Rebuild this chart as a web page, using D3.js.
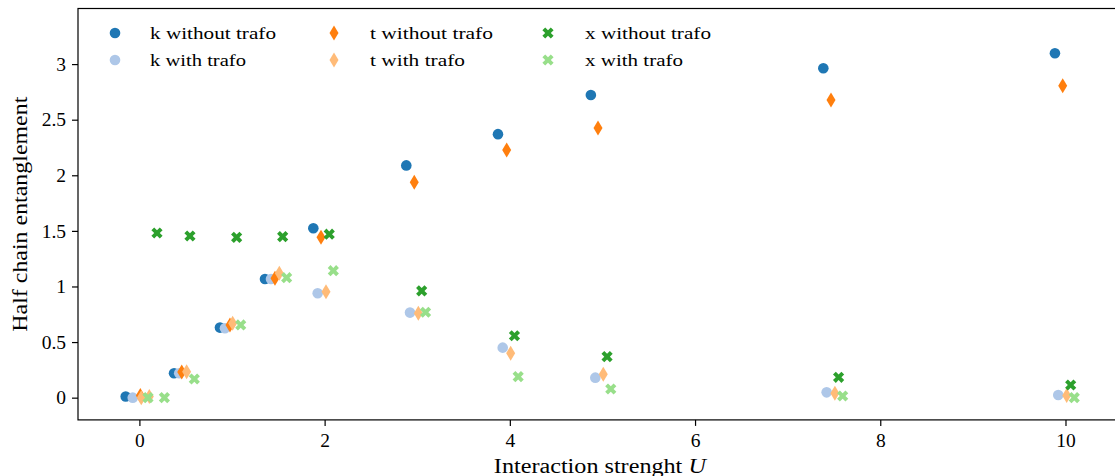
<!DOCTYPE html>
<html><head><meta charset="utf-8">
<script src="https://cdn.jsdelivr.net/npm/d3@7"></script>
<style>body{margin:0;background:#fff}svg{display:block}</style>
</head><body>
<svg id="chart" width="1115" height="476"></svg>
<script>
// ---- data (plotted U positions include the small per-series horizontal shift) ----
const kWithoutU = [-0.148, 0.374, 0.87, 1.356, 1.878, 2.882, 3.872, 4.875, 7.385, 9.886];
const kWithoutS = [0.01, 0.22, 0.63, 1.067, 1.523, 2.089, 2.37, 2.722, 2.962, 3.097];
const kWithU = [-0.072, 0.43, 0.924, 1.421, 1.925, 2.922, 3.923, 4.923, 7.421, 9.922];
const kWithS = [0.0, 0.22, 0.624, 1.067, 0.939, 0.765, 0.45, 0.18, 0.048, 0.024];
const tWithoutU = [0.01, 0.457, 0.978, 1.464, 1.961, 2.968, 3.966, 4.952, 7.468, 9.97];
const tWithoutS = [0.02, 0.23, 0.654, 1.075, 1.442, 1.937, 2.228, 2.425, 2.677, 2.806];
const tWithU = [0.02, 0.107, 0.51, 1.007, 1.511, 2.015, 3.012, 4.009, 5.009, 7.51, 10.013];
const tWithS = [0.0, 0.01, 0.234, 0.67, 1.118, 0.953, 0.759, 0.40, 0.21, 0.04, 0.02];
const xWithoutU = [0.19, 0.546, 1.05, 1.547, 2.05, 3.048, 4.05, 5.05, 7.55, 10.056];
const xWithoutS = [1.481, 1.454, 1.442, 1.448, 1.47, 0.96, 0.557, 0.369, 0.183, 0.114];
const xWithU = [0.093, 0.27, 0.593, 1.094, 1.59, 2.094, 3.09, 4.09, 5.09, 7.594, 10.095];
const xWithS = [0.0, 0.0, 0.168, 0.654, 1.079, 1.142, 0.768, 0.189, 0.078, 0.015, 0.0];
const seriesNames = ["k without trafo", "k with trafo", "t without trafo", "t with trafo", "x without trafo", "x with trafo"];
const seriesColors = ["#1f77b4", "#aec7e8", "#ff7f0e", "#ffbb78", "#2ca02c", "#98df8a"];
const seriesMarkers = ["circle", "circle", "diamond", "diamond", "cross", "cross"];
const xTicks = [0, 2, 4, 6, 8, 10];
const yTicks = [0, 0.5, 1, 1.5, 2, 2.5, 3];
const xDomain = [-0.663, 10.607];
const yDomain = [-0.2, 3.5];

const seriesU = [kWithoutU, kWithU, tWithoutU, tWithU, xWithoutU, xWithU];
const seriesS = [kWithoutS, kWithS, tWithoutS, tWithS, xWithoutS, xWithS];

const FONT = "Liberation Serif, Times New Roman, serif";
const svg = d3.select("#chart");
const L = 78, R = 1121.7, T = 8.5, B = 419.9;
const x = d3.scaleLinear().domain(xDomain).range([L, R]);
const y = d3.scaleLinear().domain(yDomain).range([B, T]);

const MS = 10.6;
function markerPath(type) {
  if (type === "circle") return d3.symbol(d3.symbolCircle, Math.PI * (MS / 2) ** 2)();
  if (type === "diamond") {
    const h = MS * 0.707, w = h * 0.6;
    return `M0,${-h}L${w},0L0,${h}L${-w},0Z`;
  }
  // filled X: plus shape rotated 45deg
  const v = [[-1,-3],[1,-3],[1,-1],[3,-1],[3,1],[1,1],[1,3],[-1,3],[-1,1],[-3,1],[-3,-1],[-1,-1]];
  const c = Math.SQRT1_2, s = MS * 1.12 / 6;
  return "M" + v.map(([a, b]) => [((a - b) * c * s).toFixed(2), ((a + b) * c * s).toFixed(2)].join(",")).join("L") + "Z";
}

// points
seriesNames.forEach((name, i) => {
  const data = seriesU[i].map((u, j) => [u, seriesS[i][j]]);
  svg.append("g").selectAll("path").data(data).join("path")
    .attr("d", markerPath(seriesMarkers[i]))
    .attr("transform", d => `translate(${x(d[0])},${y(d[1])})`)
    .attr("fill", seriesColors[i]);
});

// axes
const xAxis = svg.append("g").attr("transform", `translate(0,${B})`)
  .call(d3.axisBottom(x).tickValues(xTicks).tickSize(6).tickPadding(7).tickFormat(d3.format("d")));
const yAxis = svg.append("g").attr("transform", `translate(${L},0)`)
  .call(d3.axisLeft(y).tickValues(yTicks).tickSize(6).tickPadding(6).tickFormat(d => String(d)));
[xAxis, yAxis].forEach(g => {
  g.attr("font-family", FONT);
  g.select(".domain").remove();
  g.selectAll(".tick line").attr("stroke", "#000").attr("stroke-width", 1.2);
  g.selectAll(".tick text").attr("font-size", 19.5).attr("fill", "#000");
});
xAxis.selectAll(".tick text").attr("dy", "0.71em");

// spines
svg.append("rect").attr("x", L).attr("y", T).attr("width", R - L).attr("height", B - T)
  .attr("fill", "none").attr("stroke", "#000").attr("stroke-width", 1.2);

// axis labels
const xl = svg.append("text").attr("x", (L + R) / 2).attr("y", 473).attr("text-anchor", "middle")
  .attr("font-family", FONT).attr("font-size", 20).attr("textLength", 212).attr("lengthAdjust", "spacingAndGlyphs");
xl.append("tspan").text("Interaction strenght ");
xl.append("tspan").attr("font-style", "italic").text("U");
svg.append("text").attr("transform", `translate(27,${(T + B) / 2}) rotate(-90)`)
  .attr("text-anchor", "middle").attr("font-family", FONT).attr("font-size", 20)
  .attr("textLength", 235).attr("lengthAdjust", "spacingAndGlyphs")
  .text("Half chain entanglement");

// legend
const legX = [115, 334, 548], legTX = [150, 370, 585], legY = [33, 60];
const legW = [126, 96, 123, 95, 126, 98];
seriesNames.forEach((name, i) => {
  const col = Math.floor(i / 2), row = i % 2;
  svg.append("path").attr("d", markerPath(seriesMarkers[i]))
    .attr("transform", `translate(${legX[col]},${legY[row]})`).attr("fill", seriesColors[i]);
  svg.append("text").attr("x", legTX[col]).attr("y", legY[row] + 6)
    .attr("font-family", FONT).attr("font-size", 17.5)
    .attr("textLength", legW[i]).attr("lengthAdjust", "spacingAndGlyphs")
    .text(name);
});
</script>
</body></html>
